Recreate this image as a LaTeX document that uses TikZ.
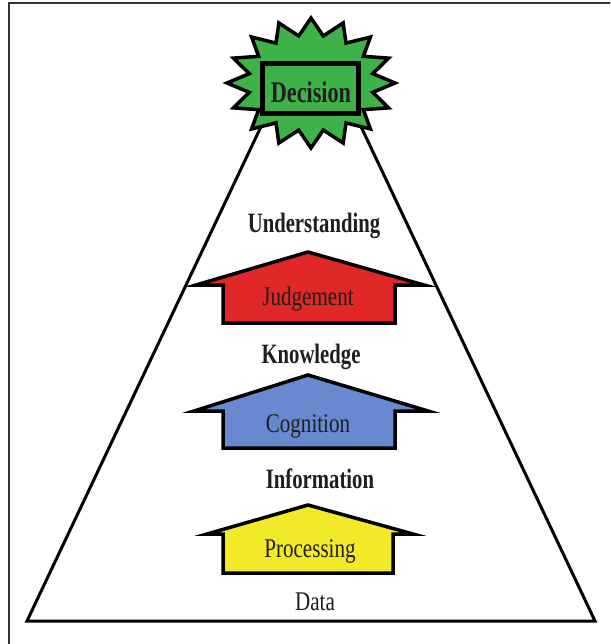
\documentclass[tikz,border=0pt]{standalone}
\usepackage{fontspec}
\setmainfont{Liberation Serif}
\newfontfamily\boldcond[FakeStretch=0.74]{Liberation Serif Bold}
\newfontfamily\regcond[FakeStretch=0.78]{Liberation Serif}
\definecolor{stargreen}{RGB}{60,178,72}
\definecolor{arrred}{RGB}{224,40,40}
\definecolor{arrblue}{RGB}{104,136,208}
\definecolor{arryellow}{RGB}{242,234,40}
\definecolor{txtdark}{RGB}{30,30,30}
\tikzset{
  outline/.style={draw=black, line width=3.5pt, line join=miter, miter limit=20},
  boldlabel/.style={font=\boldcond\fontsize{28}{30}\selectfont, text=txtdark, anchor=base, inner sep=0pt},
  reglabel/.style={font=\regcond\fontsize{27}{29}\selectfont, text=txtdark, anchor=base, inner sep=0pt},
  frameline/.style={draw=black!80, line width=2pt}
}
\begin{document}
\begin{tikzpicture}[x=1pt,y=-1pt]
\useasboundingbox (0,0) rectangle (610,644);
% frame
\coordinate (fA) at (9,644);
\coordinate (fB) at (9,3);
\coordinate (fC) at (610,3);
\draw[frameline] (fA) -- (fB) -- (fC);
% pyramid
\coordinate (apex) at (311,21);
\coordinate (bl) at (27,621);
\coordinate (br) at (595,621);
\draw[outline, line width=3pt, fill=white] (apex) -- (bl) -- (br) -- cycle;
% starburst
\draw[outline, fill=stargreen]
  \foreach \i in {0,...,15} {
    \ifnum\i=0 ({311+84*cos(90+22.5*\i)},{83-65*sin(90+22.5*\i)})
    \else -- ({311+84*cos(90+22.5*\i)},{83-65*sin(90+22.5*\i)})\fi
    -- ({311+63*cos(90+22.5*\i+11.25)},{83-48*sin(90+22.5*\i+11.25)})
  } -- cycle;
\draw[draw=black, line width=5pt, fill=stargreen] (262,64) rectangle (358,114);
\node[boldlabel, font=\boldcond\fontsize{30}{32}\selectfont] (decision) at (311,103) {Decision};
% Judgement arrow
\draw[outline, fill=arrred] (308,252) -- (424,285) -- (395,285) -- (395,323) -- (223,323) -- (223,285) -- (196,285) -- cycle;
\node[reglabel] (judgement) at (308,305) {Judgement};
% Cognition arrow
\draw[outline, fill=arrblue] (308,375) -- (428,411) -- (395,411) -- (395,448) -- (223,448) -- (223,411) -- (194,411) -- cycle;
\node[reglabel] (cognition) at (308,432) {Cognition};
% Processing arrow
\draw[outline, fill=arryellow] (308,505) -- (413,534) -- (393,534) -- (393,573) -- (223,573) -- (223,534) -- (207,534) -- cycle;
\node[reglabel] (processing) at (310,557) {Processing};
% level labels
\node[boldlabel] (understanding) at (314,233) {Understanding};
\node[boldlabel] (knowledge) at (311,363) {Knowledge};
\node[boldlabel] (information) at (320,488) {Information};
\node[reglabel] (data) at (315,610) {Data};
\end{tikzpicture}
\end{document}
